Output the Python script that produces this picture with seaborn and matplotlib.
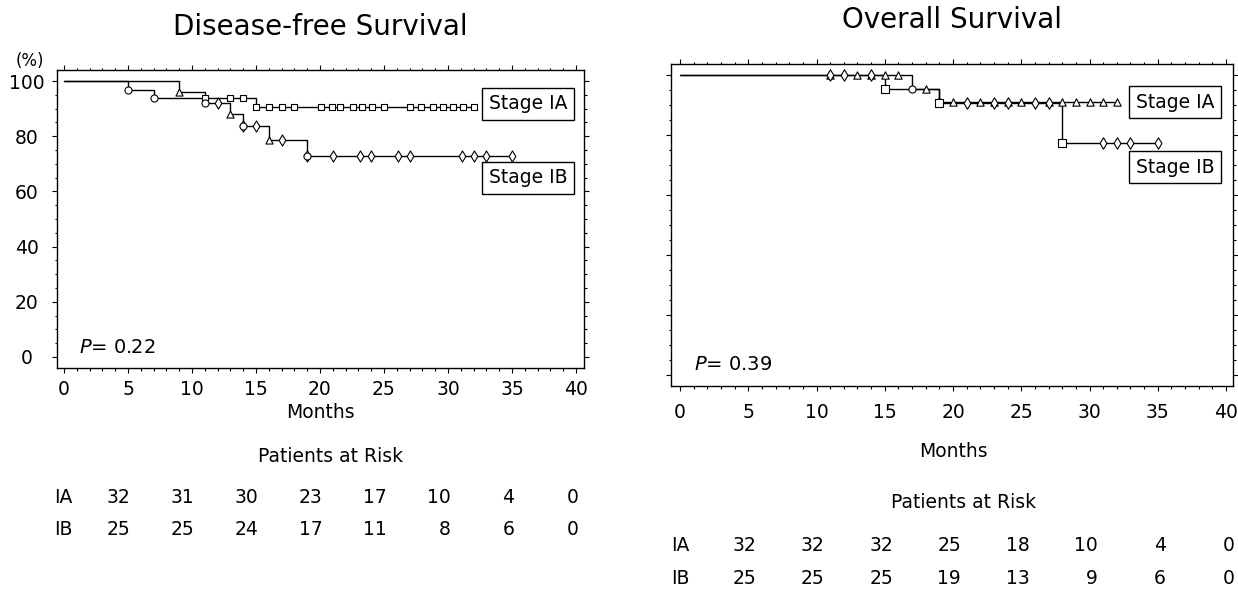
import numpy as np
import seaborn as sns
import matplotlib.pyplot as plt
import matplotlib.transforms as mtransforms
from matplotlib.ticker import MultipleLocator

sns.set_theme(style="white")
plt.rcParams['font.family'] = ['DejaVu Sans']
plt.rcParams['text.color'] = 'black'
plt.rcParams['axes.labelcolor'] = 'black'
plt.rcParams['xtick.color'] = 'black'
plt.rcParams['ytick.color'] = 'black'

# ---------------------------------------------------------------------------
# Datos (meses, % de supervivencia)
# ---------------------------------------------------------------------------
# Disease-free survival - Stage IA
dfs_ia_times = [0, 5, 7, 15]
dfs_ia_surv = [100, 96.9, 93.8, 90.6]
dfs_ia_end = 32
dfs_ia_events = [5, 7]
dfs_ia_censor = [11, 13, 14, 15, 16, 17, 18, 20.1, 20.9, 21.6, 22.6, 23.3,
                 24.1, 25, 27, 27.9, 28.8, 29.6, 30.4, 31.2, 32]

# Disease-free survival - Stage IB
dfs_ib_times = [0, 9, 11, 13, 14, 16, 19]
dfs_ib_surv = [100, 96, 92, 88, 83.6, 78.8, 73.0]
dfs_ib_end = 35
dfs_ib_events = [9, 11, 13, 14, 16, 19]
dfs_ib_censor = [12, 14, 15, 17, 19, 21, 23.1, 24, 26.1, 27, 31.1, 32, 33, 35]

# Overall survival - Stage IA
os_ia_times = [0, 17, 19]
os_ia_surv = [100, 95.5, 91.2]
os_ia_end = 32
os_ia_events = [17, 19]
os_ia_censor = [11, 13, 14, 15, 16, 18, 20, 22, 23, 24, 25, 27, 28, 29, 30,
                31, 32]

# Overall survival - Stage IB
os_ib_times = [0, 15, 19, 28]
os_ib_surv = [100, 95.5, 90.6, 77.4]
os_ib_end = 35
os_ib_events = [15, 19, 28]
os_ib_censor = [11, 12, 14, 21, 23, 24, 26, 27, 31, 32, 33, 35]

# Pacientes en riesgo
risk_times = [0, 5, 10, 15, 20, 25, 30, 35]
dfs_risk_ia = [32, 31, 30, 23, 17, 10, 4, 0]
dfs_risk_ib = [25, 25, 24, 17, 11, 8, 6, 0]
os_risk_ia = [32, 32, 32, 25, 18, 10, 4, 0]
os_risk_ib = [25, 25, 25, 19, 13, 9, 6, 0]

dfs_p = "0.22"
os_p = "0.39"

# Simbolos de los eventos (estilo)
dfs_ia_event_mk = ["o", "o"]
dfs_ib_event_mk = ["^", "o", "^", "o", "^", "o"]
os_ia_event_mk = ["o", "o"]
os_ib_event_mk = ["s", "s", "s"]


def step_value(times, surv, t):
    idx = np.searchsorted(times, t, side="right") - 1
    return np.asarray(surv)[idx]


def draw_curve(ax, times, surv, end, events, event_mk, censor, censor_mk, censor_s):
    xs = list(times) + [end]
    ys = list(surv) + [surv[-1]]
    sns.lineplot(x=xs, y=ys, drawstyle="steps-post", color="black",
                 linewidth=1.0, estimator=None, sort=False, ax=ax, zorder=2)
    cy = [step_value(times, surv, t) for t in censor]
    sns.scatterplot(x=censor, y=cy, marker=censor_mk, s=censor_s, color="white",
                    edgecolor="black", linewidth=0.8, ax=ax, zorder=3)
    for t, mk in zip(events, event_mk):
        sns.scatterplot(x=[t], y=[step_value(times, surv, t)], marker=mk, s=26,
                        color="white", edgecolor="black", linewidth=0.8,
                        ax=ax, zorder=4)


def style_axes(ax, xlim, ylim, show_ylabels, xpad):
    ax.set_xlim(*xlim)
    ax.set_ylim(*ylim)
    ax.set_xticks(range(0, 45, 5))
    ax.set_yticks(range(0, 120, 20))
    ax.xaxis.set_minor_locator(MultipleLocator(1))
    ax.yaxis.set_minor_locator(MultipleLocator(5))
    for sp in ax.spines.values():
        sp.set_visible(True)
        sp.set_color("black")
        sp.set_linewidth(1.0)
    ax.tick_params(which="both", direction="out", top=True, right=True,
                   bottom=True, left=True, color="black", width=0.8,
                   labelsize=13.5, labelcolor="black")
    ax.tick_params(which="major", length=3.6)
    ax.tick_params(which="minor", length=1.8)
    ax.tick_params(axis="x", pad=xpad)
    ax.tick_params(axis="y", pad=18, labelleft=show_ylabels)
    for lab in ax.get_yticklabels():
        lab.set_horizontalalignment("center")
    ax.set_xlabel("")
    ax.set_ylabel("")


fig = plt.figure(figsize=(12.38, 5.9), dpi=100)
ax1 = fig.add_axes([0.04604, 0.37627, 0.42569, 0.50508])
ax2 = fig.add_axes([0.54200, 0.34576, 0.45396, 0.54576])

# Panel izquierdo: Disease-free Survival
draw_curve(ax1, dfs_ia_times, dfs_ia_surv, dfs_ia_end, dfs_ia_events,
           dfs_ia_event_mk, dfs_ia_censor, "s", 20)
draw_curve(ax1, dfs_ib_times, dfs_ib_surv, dfs_ib_end, dfs_ib_events,
           dfs_ib_event_mk, dfs_ib_censor, "d", 32)
style_axes(ax1, (-0.55, 40.63), (-4, 104), True, 5)

# Panel derecho: Overall Survival
draw_curve(ax2, os_ia_times, os_ia_surv, os_ia_end, os_ia_events,
           os_ia_event_mk, os_ia_censor, "^", 28)
draw_curve(ax2, os_ib_times, os_ib_surv, os_ib_end, os_ib_events,
           os_ib_event_mk, os_ib_censor, "d", 34)
style_axes(ax2, (-0.66, 40.51), (-3.5, 103.7), False, 8.6)

box = dict(boxstyle="square,pad=0.35", facecolor="white", edgecolor="black",
           linewidth=1.0)
ax1.text(36.25, 91.7, "Stage IA", ha="center", va="center", fontsize=13.5,
         bbox=box, zorder=5)
ax1.text(36.25, 64.9, "Stage IB", ha="center", va="center", fontsize=13.5,
         bbox=box, zorder=5)
ax2.text(36.26, 91.0, "Stage IA", ha="center", va="center", fontsize=13.5,
         bbox=box, zorder=5)
ax2.text(36.26, 69.4, "Stage IB", ha="center", va="center", fontsize=13.5,
         bbox=box, zorder=5)

ax1.text(1.17, 3.3, r"$P$= " + dfs_p, ha="left", va="center", fontsize=14)
ax2.text(1.03, 3.5, r"$P$= " + os_p, ha="left", va="center", fontsize=14)

# Titulos y etiqueta (%)
fig.text(0.2589, 0.955, "Disease-free Survival", ha="center", va="center",
         fontsize=20)
fig.text(0.7690, 0.966, "Overall Survival", ha="center", va="center",
         fontsize=20)
fig.text(30 / 1238, 1 - 61 / 590, "(%)", ha="center", va="center", fontsize=12)


# Meses y pacientes en riesgo
def risk_table(ax, ys, rows, offset, label_x, xcenter):
    tr = mtransforms.blended_transform_factory(ax.transData, fig.transFigure)
    y_months, y_title, y_ia, y_ib = ys
    ax.text(xcenter, y_months, "Months", transform=tr, ha="center",
            va="center", fontsize=13.5)
    ax.text(xcenter + 0.8, y_title, "Patients at Risk", transform=tr,
            ha="center", va="center", fontsize=13.5)
    for name, vals, y in zip(["IA", "IB"], rows, [y_ia, y_ib]):
        ax.text(label_x, y, name, transform=tr, ha="left", va="center",
                fontsize=13.5)
        for t, v in zip(risk_times, vals):
            ax.text(t + offset, y, str(v), transform=tr, ha="right",
                    va="center", fontsize=13.5)


risk_table(ax1, (0.3000, 0.2271, 0.1576, 0.1017), (dfs_risk_ia, dfs_risk_ib),
           5.2, -0.8, 20)
risk_table(ax2, (0.2339, 0.1475, 0.0746, 0.0203), (os_risk_ia, os_risk_ib),
           5.6, -0.66, 20)

for ax in (ax1, ax2):
    leg = ax.get_legend()
    if leg is not None:
        leg.remove()

plt.savefig("out.png", dpi=100)
